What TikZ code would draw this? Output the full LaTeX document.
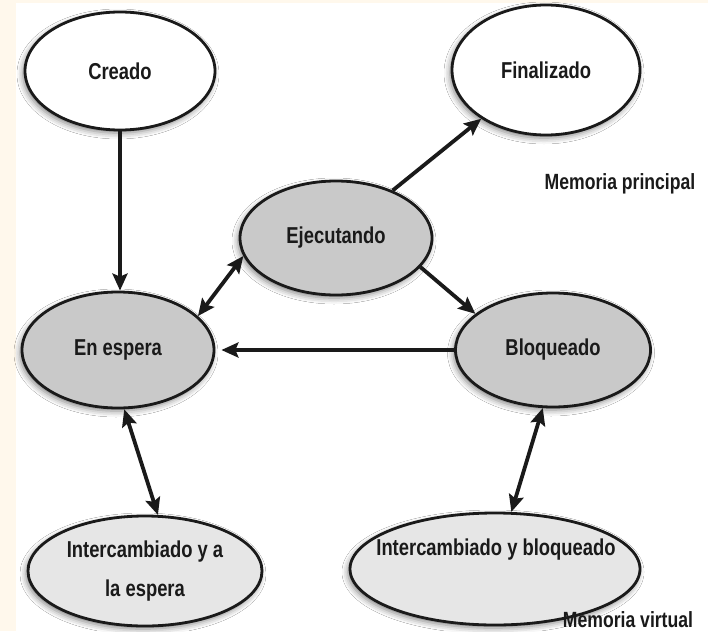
\documentclass[tikz,border=0pt]{standalone}
\usepackage{fontspec}
\newfontfamily\lbl{Liberation Sans}[FakeStretch=0.8]
\usetikzlibrary{shapes.geometric,arrows.meta,shadows.blur}
\definecolor{cream}{HTML}{FFF8EC}
\definecolor{midgray}{HTML}{C9C9C9}
\definecolor{lightgray2}{HTML}{E6E6E6}
\definecolor{inkc}{HTML}{1A1A1A}
\tikzset{
  state/.style={ellipse, draw=inkc, line width=2.8pt, inner sep=0pt, text=inkc,
    font=\lbl\bfseries\fontsize{23}{39}\selectfont, align=center,
    blur shadow={shadow xshift=-2pt, shadow yshift=-3pt, shadow blur radius=6pt, shadow opacity=50}},
  txt/.style={text=inkc, font=\lbl\bfseries\fontsize{22}{26}\selectfont, inner sep=0pt},
  tip/.style={Stealth[length=17pt,width=15pt,inset=3pt]},
  conn/.style={draw=inkc, line width=3.8pt, -{Stealth[length=17pt,width=15pt,inset=3pt]}},
  conn2/.style={draw=inkc, line width=3.8pt, {Stealth[length=17pt,width=15pt,inset=3pt]}-{Stealth[length=17pt,width=15pt,inset=3pt]}}
}
\begin{document}
\begin{tikzpicture}[x=1pt,y=-1pt]
\useasboundingbox (0,0) rectangle (708,631);
\fill[cream] (0,0) rectangle (708,631);
\fill[white] (16,3) rectangle (708,631);
\node[state, fill=white, minimum width=190pt, minimum height=118pt] (creado) at (120,71) {Creado};
\node[state, fill=white, minimum width=188pt, minimum height=130pt] (finalizado) at (546,70) {Finalizado};
\node[state, fill=midgray, minimum width=192pt, minimum height=114pt] (ejecutando) at (336,238) {Ejecutando};
\node[state, fill=midgray, minimum width=192pt, minimum height=116pt] (enespera) at (118,350) {En espera};
\node[state, fill=midgray, minimum width=195pt, minimum height=114pt] (bloqueado) at (553,350) {Bloqueado};
\node[state, fill=lightgray2, minimum width=234pt, minimum height=110pt] (interesp) at (145,571) {Intercambiado y a\\la espera};
\node[state, fill=lightgray2, minimum width=290pt, minimum height=112pt] (interbloq) at (495,569) {};
\node[txt, font=\lbl\bfseries\fontsize{23}{26}\selectfont] (interbloqtext) at (496,550) {Intercambiado y bloqueado};
\node[txt] (mprincipal) at (620,184) {Memoria principal};
\node[txt, anchor=base] (mvirtual) at (628,627) {Memoria virtual};

\draw[conn] (creado.south) -- (creado.south |- enespera.north);
\draw[conn] (ejecutando.40) -- (finalizado.217);
\draw[conn2] (ejecutando.191) -- (enespera.23);
\draw[conn] (ejecutando.-19) -- (bloqueado.155);
\draw[conn, shorten >=6pt] (bloqueado.west) -- (enespera.east);
\draw[conn2] (enespera.276) -- (interesp.77);
\draw[conn2] (bloqueado.260) -- (interbloq.74);
\end{tikzpicture}
\end{document}
